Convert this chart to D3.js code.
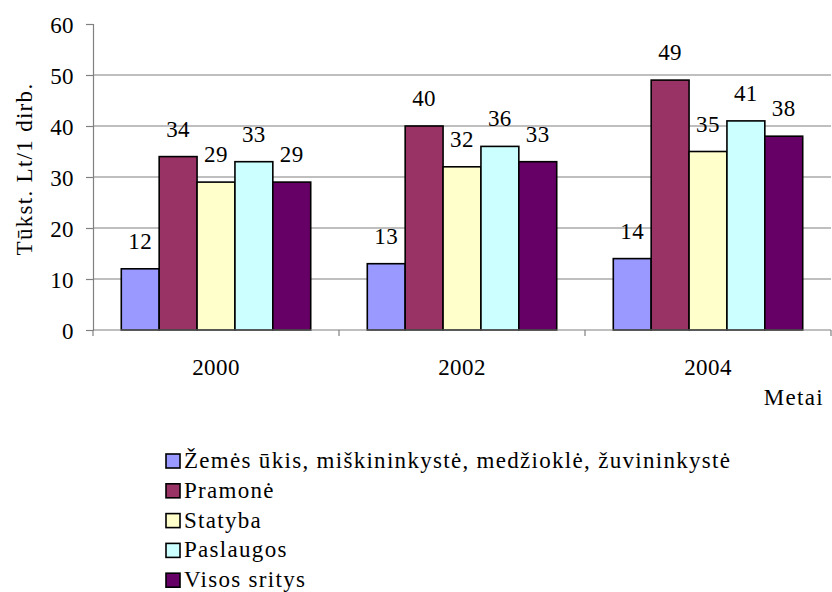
<!DOCTYPE html>
<html><head><meta charset="utf-8">
<script src="https://cdn.jsdelivr.net/npm/d3@7"></script>
<style>body{margin:0;background:#fff}</style>
</head><body><svg id="c" width="832" height="592" font-family="'Liberation Serif', 'Times New Roman', Times, 'DejaVu Serif', serif"></svg>
<script>
const years = ["2000", "2002", "2004"];
const seriesNames = ["Žemės ūkis, miškininkystė, medžioklė, žuvininkystė", "Pramonė", "Statyba", "Paslaugos", "Visos sritys"];
const seriesColors = ["#9999FF", "#993366", "#FFFFCC", "#CCFFFF", "#660066"];
const zemes = [12, 13, 14];
const pramone = [34, 40, 49];
const statyba = [29, 32, 35];
const paslaugos = [33, 36, 41];
const visos = [29, 33, 38];
const yTicks = [0, 10, 20, 30, 40, 50, 60];
const allSeries = [zemes, pramone, statyba, paslaugos, visos];

(function(){
const FF = "Liberation Serif";
const FS = 23;
const LSW = "1.3px";   // words
const LSN = "0.4px";   // numbers
const svg = d3.select("#c");
const pL = 93, pR = 831, pT = 24, pB = 330;
const x0 = d3.scaleBand().domain(years).range([pL, pR]).paddingInner(0).paddingOuter(0);
const inner = 0.115;
const x1 = d3.scaleBand().domain(d3.range(5)).range([x0.bandwidth()*inner, x0.bandwidth()*(1-inner)]);
const y = d3.scaleLinear().domain([0, 60]).range([pB, pT]);

svg.append("g").selectAll("line").data(yTicks.filter(t => t > 0 && t < 60)).join("line")
  .attr("x1", pL).attr("x2", pR).attr("y1", d => y(d)).attr("y2", d => y(d))
  .attr("stroke", "#808080").attr("stroke-width", 1.2);

const yAxis = svg.append("g").attr("transform", `translate(${pL},0)`)
  .call(d3.axisLeft(y).tickValues(yTicks).tickSize(7).tickPadding(12));
yAxis.attr("font-family", FF);
yAxis.select(".domain").attr("stroke", "#808080").attr("stroke-width", 1.2);
yAxis.selectAll(".tick line").attr("stroke", "#808080").attr("stroke-width", 1.2);
yAxis.selectAll("text").attr("font-size", FS).attr("font-family", FF).attr("fill", "#000")
  .attr("letter-spacing", LSN).attr("dy", "0.38em");

years.forEach((yr, gi) => {
  const g = svg.append("g").attr("transform", `translate(${x0(yr)},0)`);
  allSeries.forEach((s, si) => {
    g.append("rect").attr("x", x1(si)).attr("width", x1.bandwidth())
      .attr("y", y(s[gi])).attr("height", y(0) - y(s[gi]))
      .attr("fill", seriesColors[si]).attr("stroke", "#000").attr("stroke-width", 1.6);
    g.append("text").attr("x", x1(si) + x1.bandwidth()/2).attr("y", y(s[gi]) - 20)
      .attr("text-anchor", "middle").attr("font-family", FF).attr("font-size", FS)
      .attr("letter-spacing", LSN).text(s[gi]);
  });
});

const xAxisG = svg.append("g").attr("transform", `translate(0,${pB})`);
xAxisG.append("line").attr("x1", pL).attr("x2", pR).attr("stroke", "#808080").attr("stroke-width", 1.2);
const bounds = [pL, ...years.map(yr => x0(yr) + x0.bandwidth())];
xAxisG.selectAll(".t").data(bounds).join("line").attr("x1", d => d).attr("x2", d => d)
  .attr("y1", 0).attr("y2", 6).attr("stroke", "#808080").attr("stroke-width", 1.2);
xAxisG.selectAll(".lbl").data(years).join("text")
  .attr("x", d => x0(d) + x0.bandwidth()/2).attr("y", 45)
  .attr("text-anchor", "middle").attr("font-family", FF).attr("font-size", FS)
  .attr("letter-spacing", LSN).text(d => d);

svg.append("text").attr("x", 824).attr("y", 405).attr("text-anchor", "end").attr("font-family", FF)
  .attr("font-size", FS).attr("letter-spacing", LSW).text("Metai");
svg.append("text").attr("transform", "translate(32,169) rotate(-90)").attr("text-anchor", "middle")
  .attr("font-family", FF).attr("font-size", FS).attr("letter-spacing", LSW).text("Tūkst. Lt/1 dirb.");

const lg = svg.append("g");
seriesNames.forEach((n, i) => {
  const cy = 461 + i * 29.8;
  lg.append("rect").attr("x", 166).attr("y", cy - 7).attr("width", 14).attr("height", 14)
    .attr("fill", seriesColors[i]).attr("stroke", "#000").attr("stroke-width", 1.6);
  lg.append("text").attr("x", 184).attr("y", cy + 7).attr("font-family", FF).attr("font-size", FS)
    .attr("letter-spacing", LSW).text(n);
});
})();
</script></body></html>
